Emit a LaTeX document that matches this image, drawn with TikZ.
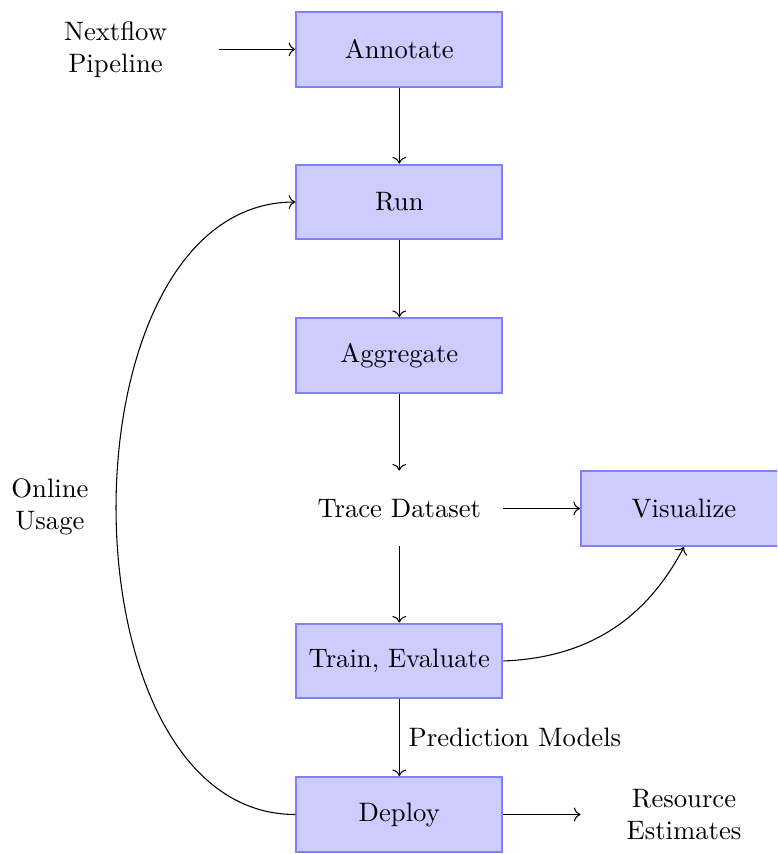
\documentclass[tikz,border=0pt]{standalone}
\usetikzlibrary{arrows.meta}
\begin{document}
\begin{tikzpicture}[x=0.375pt,y=-0.375pt,
  stage/.style={rectangle, draw=blue!50, fill=blue!20, thick,
    minimum width=77.2pt, minimum height=28pt, align=center},
  plain/.style={rectangle, minimum width=77.2pt, minimum height=28pt, align=center},
  flow/.style={->}]
\useasboundingbox (0,0) rectangle (777,854);
\clip (0,0) rectangle (777,854);

% main column of stages
\node[stage] (annotate) at (399.3,49.4)  {Annotate};
\node[stage] (run)      at (399.3,202)   {Run};
\node[stage] (aggr)     at (399.3,355.5) {Aggregate};
\node[plain] (trace)    at (399.3,508.5) {Trace Dataset};
\node[stage] (train)    at (399.3,661)   {Train, Evaluate};
\node[stage] (deploy)   at (399.3,814.5) {Deploy};

% side nodes
\node[plain] (input)    at (115.5,49.4) {Nextflow\\Pipeline};
\node[stage] (visual)   at (684,508.5) {Visualize};
\node[plain] (estim)    at (684,814.5) {Resource\\Estimates};
\node[align=center] (online) at (50,507) {Online\\Usage};

% connectors
\draw[flow] (input) -- (annotate);
\draw[flow] (annotate) -- (run);
\draw[flow] (run) -- (aggr);
\draw[flow] (aggr) -- (trace);
\draw[flow] (trace) -- (train);
\draw[flow] (trace) -- (visual);
\draw[flow] (train.east) to[bend right] (visual.south);
\draw[flow] (train) -- node[right] (models) {Prediction Models} (deploy);
\draw[flow] (deploy) -- (estim);
\draw[flow] (deploy.west) to[out=180,in=180] (run.west);
\end{tikzpicture}
\end{document}
